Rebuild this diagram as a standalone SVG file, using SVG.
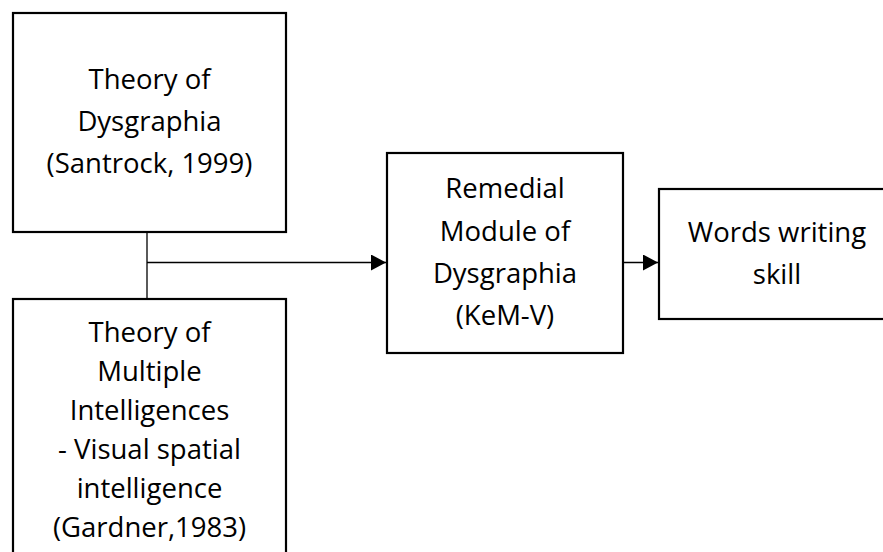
<svg xmlns="http://www.w3.org/2000/svg" width="883" height="552" viewBox="0 0 883 552">
<style>
.box{fill:#fff;stroke:#000;stroke-width:2.2}
.t{font-family:"Open Sans","Noto Sans",sans-serif;font-size:27.5px;fill:#000;text-anchor:middle}
.c{stroke:#000;stroke-width:1.3;fill:none}
</style>
<defs>
<marker id="ah" markerUnits="userSpaceOnUse" markerWidth="15" markerHeight="16" refX="15" refY="8" orient="auto">
<path d="M0,0 L15,8 L0,16 Z" fill="#000"/>
</marker>
</defs>
<rect width="883" height="552" fill="#fff"/>
<g id="connectors">
<line class="c" x1="147" y1="232" x2="147" y2="299"/>
<line class="c" x1="147" y1="262.5" x2="386" y2="262.5" marker-end="url(#ah)"/>
<line class="c" x1="623" y1="262.5" x2="658" y2="262.5" marker-end="url(#ah)"/>
</g>
<g id="n1">
<rect class="box" x="13" y="13" width="273" height="219"/>
<text class="t" x="149.5" y="89">Theory of</text>
<text class="t" x="149.5" y="131">Dysgraphia</text>
<text class="t" x="149.5" y="173">(Santrock, 1999)</text>
</g>
<g id="n2">
<rect class="box" x="13" y="299" width="273" height="262"/>
<text class="t" x="149.5" y="342">Theory of</text>
<text class="t" x="149.5" y="381">Multiple</text>
<text class="t" x="149.5" y="420">Intelligences</text>
<text class="t" x="149.5" y="459">- Visual spatial</text>
<text class="t" x="149.5" y="498">intelligence</text>
<text class="t" x="149.5" y="537">(Gardner,1983)</text>
</g>
<g id="n3">
<rect class="box" x="387" y="153" width="236" height="200"/>
<text class="t" x="505" y="198">Remedial</text>
<text class="t" x="505" y="241">Module of</text>
<text class="t" x="505" y="283">Dysgraphia</text>
<text class="t" x="505" y="325">(KeM-V)</text>
</g>
<g id="n4">
<rect class="box" x="659" y="189" width="238" height="130"/>
<text class="t" x="777" y="242">Words writing</text>
<text class="t" x="777" y="284">skill</text>
</g>
</svg>
